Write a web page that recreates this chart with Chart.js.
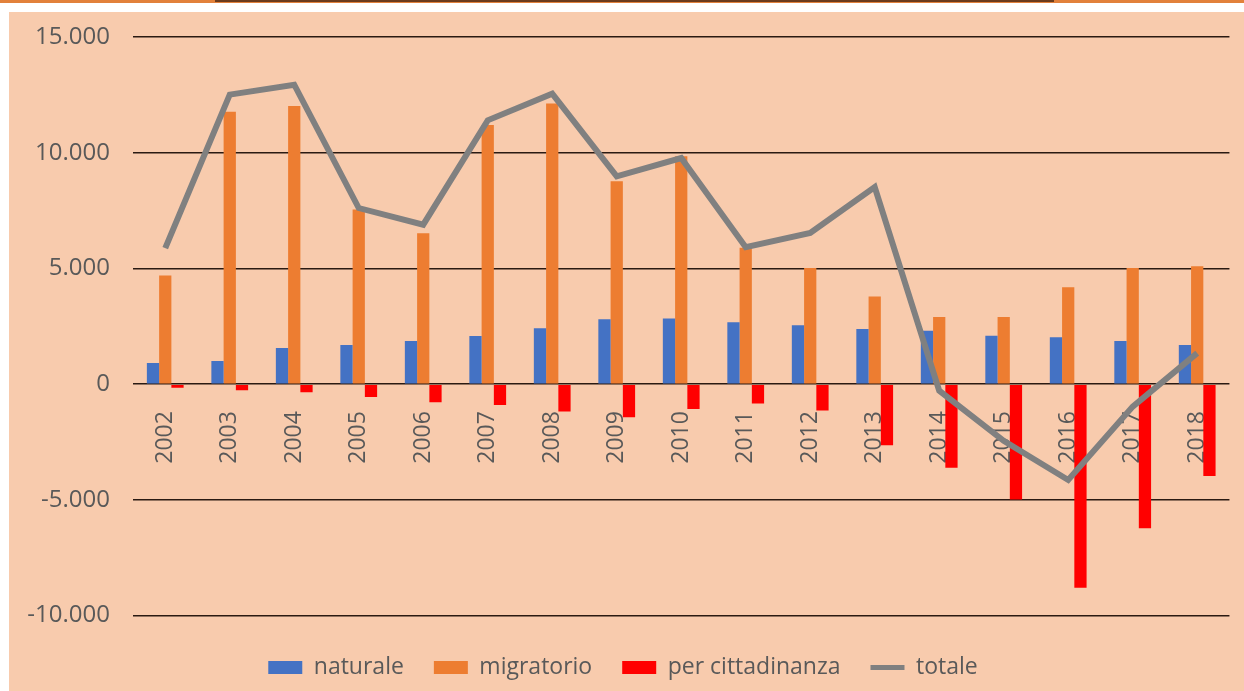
<!DOCTYPE html>
<html>
<head>
<meta charset="utf-8">
<script src="https://cdn.jsdelivr.net/npm/chart.js@4"></script>
<style>
  html, body { margin: 0; padding: 0; background: #fff; }
  body { width: 1244px; height: 691px; position: relative; overflow: hidden; }
  #topbar { position: absolute; left: 0; top: 0; width: 1244px; height: 3px; background: #E2813B; }
  #topline { position: absolute; left: 215px; top: 0; width: 839px; height: 2px; background: #6b3b1c; }
  #frame { position: absolute; left: 9px; top: 12px; width: 1235px; height: 679px; background: #F8CBAD; }
</style>
</head>
<body>
<div id="topbar"></div><div id="topline"></div>
<div id="frame"><canvas id="saldo"></canvas></div>
<script>
// saldi annuali della popolazione
const anni = ['2002', '2003', '2004', '2005', '2006', '2007', '2008', '2009', '2010',
              '2011', '2012', '2013', '2014', '2015', '2016', '2017', '2018'];
const naturale = [910, 1000, 1560, 1690, 1860, 2080, 2420, 2800, 2840, 2680, 2550, 2380, 2310, 2090, 2030, 1860, 1690];
const migratorio = [4700, 11770, 12020, 7550, 6520, 11200, 12130, 8770, 9850, 5890, 5020, 3790, 2900, 2900, 4190, 5020, 5090];
const cittadinanza = [-150, -260, -350, -550, -780, -900, -1180, -1430, -1070, -840, -1140, -2640, -3610, -4980, -8800, -6230, -3970];
const totale = [5880, 12510, 12940, 7610, 6890, 11400, 12550, 8980, 9770, 5920, 6530, 8520, -280, -2450, -4140, -970, 1340];
const yTicks = [-10000, -5000, 0, 5000, 10000, 15000];

const testo = '#595959';
const font = 'Open Sans';

function fmt(v) {
    const s = Math.abs(v).toString().replace(/\B(?=(\d{3})+(?!\d))/g, '.');
    return (v < 0 ? '-' : '') + s;
}

window.addEventListener('load', setup);

function setup() {
    const ctx = document.getElementById('saldo').getContext('2d');
    new Chart(ctx, {
        type: 'bar',
        data: {
            labels: anni,
            datasets: [
                { label: 'naturale', data: naturale, backgroundColor: '#4472C4', order: 1 },
                { label: 'migratorio', data: migratorio, backgroundColor: '#ED7D31', order: 1 },
                { label: 'per cittadinanza', data: cittadinanza, backgroundColor: '#FF0000', order: 1 },
                {
                    type: 'line',
                    label: 'totale',
                    data: totale,
                    borderColor: '#808080',
                    backgroundColor: '#808080',
                    borderWidth: 6,
                    pointRadius: 0,
                    tension: 0,
                    order: 0
                }
            ]
        },
        options: {
            responsive: true,
            maintainAspectRatio: false,
            animation: false,
            layout: { padding: { top: 25, right: 7, bottom: 2, left: 0 } },
            datasets: {
                bar: { categoryPercentage: 0.57, barPercentage: 1 }
            },
            scales: {
                x: {
                    position: { y: 0 },
                    grid: { display: false },
                    border: { display: false },
                    ticks: {
                        autoSkip: false,
                        minRotation: 90,
                        maxRotation: 90,
                        padding: 19,
                        color: testo,
                        font: { family: font, size: 23 }
                    }
                },
                y: {
                    min: -10000,
                    max: 15000,
                    afterBuildTicks: scale => { scale.ticks = yTicks.map(v => ({ value: v })); },
                    afterFit: scale => { scale.width = 124; },
                    grid: { color: '#2a1a12', lineWidth: 1.5, drawTicks: true, tickLength: 23, tickColor: 'rgba(0,0,0,0)' },
                    border: { display: false },
                    ticks: {
                        padding: 0,
                        color: testo,
                        font: { family: font, size: 24 },
                        callback: v => fmt(v)
                    }
                }
            },
            plugins: {
                tooltip: { enabled: false },
                legend: {
                    position: 'bottom',
                    title: { display: true, text: ' ', font: { size: 2 }, padding: 4 },
                    labels: {
                        usePointStyle: true,
                        pointStyleWidth: 34,
                        boxHeight: 13,
                        padding: 30,
                        color: testo,
                        font: { family: font, size: 23 },
                        sort: (a, b) => a.datasetIndex - b.datasetIndex,
                        generateLabels: chart => {
                            const items = Chart.defaults.plugins.legend.labels.generateLabels(chart);
                            items.forEach(it => {
                                if (it.datasetIndex === 3) {
                                    it.pointStyle = 'line';
                                    it.lineWidth = 5;
                                    it.strokeStyle = '#808080';
                                } else {
                                    it.pointStyle = 'rect';
                                    it.lineWidth = 0;
                                }
                            });
                            return items;
                        }
                    }
                }
            }
        }
    });
}
</script>
</body>
</html>
